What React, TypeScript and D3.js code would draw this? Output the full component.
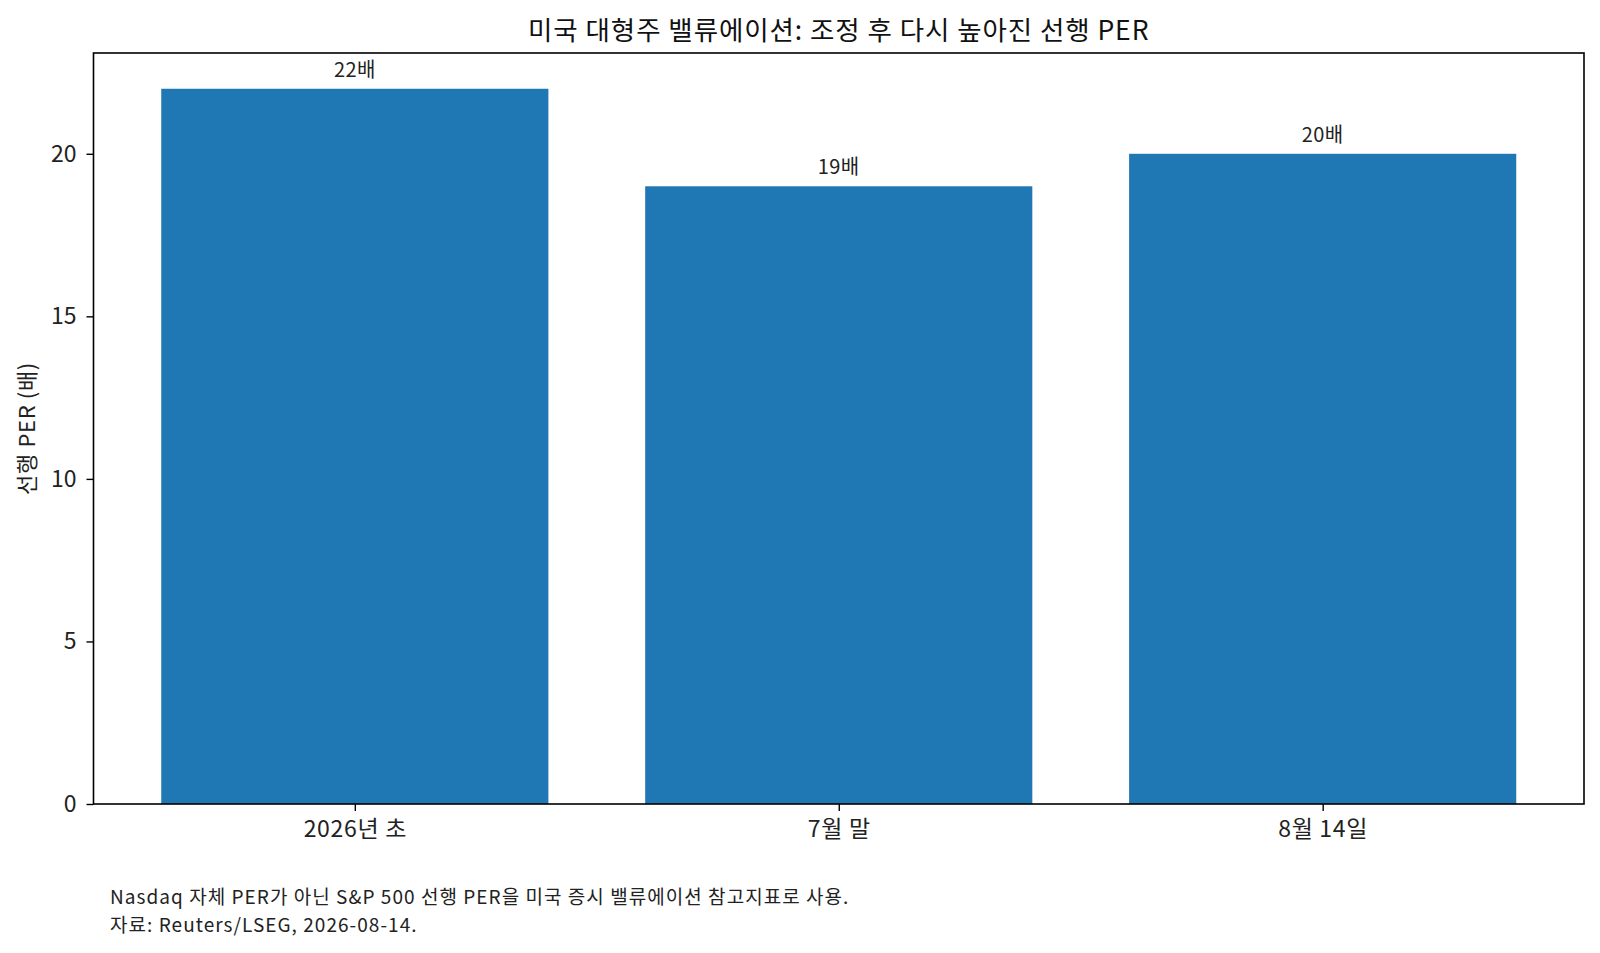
import { useEffect, useRef } from "react";
import * as d3 from "d3";

const categories = ["2026년 초", "7월 말", "8월 14일"];
const perValues = [22, 19, 20];
const valueLabels = ["22배", "19배", "20배"];
const yTicks = [0, 5, 10, 15, 20];

const title = "미국 대형주 밸류에이션: 조정 후 다시 높아진 선행 PER";
const yLabel = "선행 PER (배)";
const notes = [
  "Nasdaq 자체 PER가 아닌 S&P 500 선행 PER을 미국 증시 밸류에이션 참고지표로 사용.",
  "자료: Reuters/LSEG, 2026-08-14.",
];

const W = 1600;
const H = 953;
const margin = { top: 53, right: 16, bottom: 149, left: 93.5 };
const FONT = "'Noto Sans CJK KR', 'Noto Sans', sans-serif";
const BAR = "#1f77b4";

export default function App() {
  const svgRef = useRef<SVGSVGElement | null>(null);

  useEffect(() => {
    document.body.style.margin = "0";
    document.body.style.overflow = "hidden";
    if (!svgRef.current) return;
    const svg = d3.select(svgRef.current);
    svg.selectAll("*").remove();

    const innerW = W - margin.left - margin.right;
    const innerH = H - margin.top - margin.bottom;

    // matplotlib-like: bar width 0.8, 5% margins on each side
    const n = categories.length;
    const pad = 0.05 * (n - 1 + 0.8);
    const x = d3.scaleLinear().domain([-0.4 - pad, n - 1 + 0.4 + pad]).range([0, innerW]);
    const yMax = d3.max(perValues)! * 1.05;
    const y = d3.scaleLinear().domain([0, yMax]).range([innerH, 0]);

    const g = svg.append("g").attr("transform", `translate(${margin.left},${margin.top})`);

    g.selectAll(".bar")
      .data(perValues)
      .enter()
      .append("rect")
      .attr("class", "bar")
      .attr("x", (_d, i) => x(i - 0.4))
      .attr("width", x(0.4) - x(-0.4))
      .attr("y", (d) => y(d))
      .attr("height", (d) => innerH - y(d))
      .attr("fill", BAR);

    g.selectAll(".vlabel")
      .data(perValues)
      .enter()
      .append("text")
      .attr("class", "vlabel")
      .attr("x", (_d, i) => x(i))
      .attr("y", (d) => y(d) - 12)
      .attr("text-anchor", "middle")
      .style("font-family", FONT)
      .style("font-size", "20px")
      .style("letter-spacing", "0.02em")
      .attr("fill", "#222")
      .text((_d, i) => valueLabels[i]);

    // y axis
    const yAxis = g.append("g").call(d3.axisLeft(y).tickValues(yTicks).tickSize(7).tickPadding(10));
    yAxis.select(".domain").remove();
    yAxis.selectAll("line").attr("stroke", "#000").attr("stroke-width", 1.4);
    yAxis
      .selectAll("text")
      .style("font-family", FONT)
      .style("font-size", "23px")
      .attr("fill", "#222");

    // x axis
    const xAxis = g
      .append("g")
      .attr("transform", `translate(0,${innerH})`)
      .call(
        d3
          .axisBottom(x)
          .tickValues(d3.range(n))
          .tickFormat((d) => categories[d as number])
          .tickSize(7)
      );
    xAxis.select(".domain").remove();
    xAxis.selectAll("line").attr("stroke", "#000").attr("stroke-width", 1.4);
    xAxis
      .selectAll("text")
      .attr("dy", null)
      .attr("y", 33)
      .style("font-family", FONT)
      .style("font-size", "23px")
      .style("letter-spacing", "0.03em")
      .attr("fill", "#222");

    // frame
    g.append("rect")
      .attr("width", innerW)
      .attr("height", innerH)
      .attr("fill", "none")
      .attr("stroke", "#000")
      .attr("stroke-width", 1.6);

    svg
      .append("text")
      .attr("x", margin.left + innerW / 2)
      .attr("y", 40)
      .attr("text-anchor", "middle")
      .style("font-family", FONT)
      .style("font-size", "26.5px")
      .style("letter-spacing", "0.035em")
      .attr("fill", "#111")
      .text(title);

    svg
      .append("text")
      .attr("transform", `translate(35,${margin.top + innerH / 2}) rotate(-90)`)
      .attr("text-anchor", "middle")
      .style("font-family", FONT)
      .style("font-size", "22px")
      .style("letter-spacing", "0.03em")
      .attr("fill", "#222")
      .text(yLabel);

    svg
      .selectAll(".note")
      .data(notes)
      .enter()
      .append("text")
      .attr("class", "note")
      .attr("x", 110)
      .attr("y", (_d, i) => 904 + i * 27.5)
      .style("font-family", FONT)
      .style("font-size", "19px")
      .style("letter-spacing", "0.055em")
      .attr("fill", "#222")
      .text((d) => d);
  }, []);

  return <svg ref={svgRef} width={W} height={H} style={{ display: "block", background: "#fff" }} />;
}
